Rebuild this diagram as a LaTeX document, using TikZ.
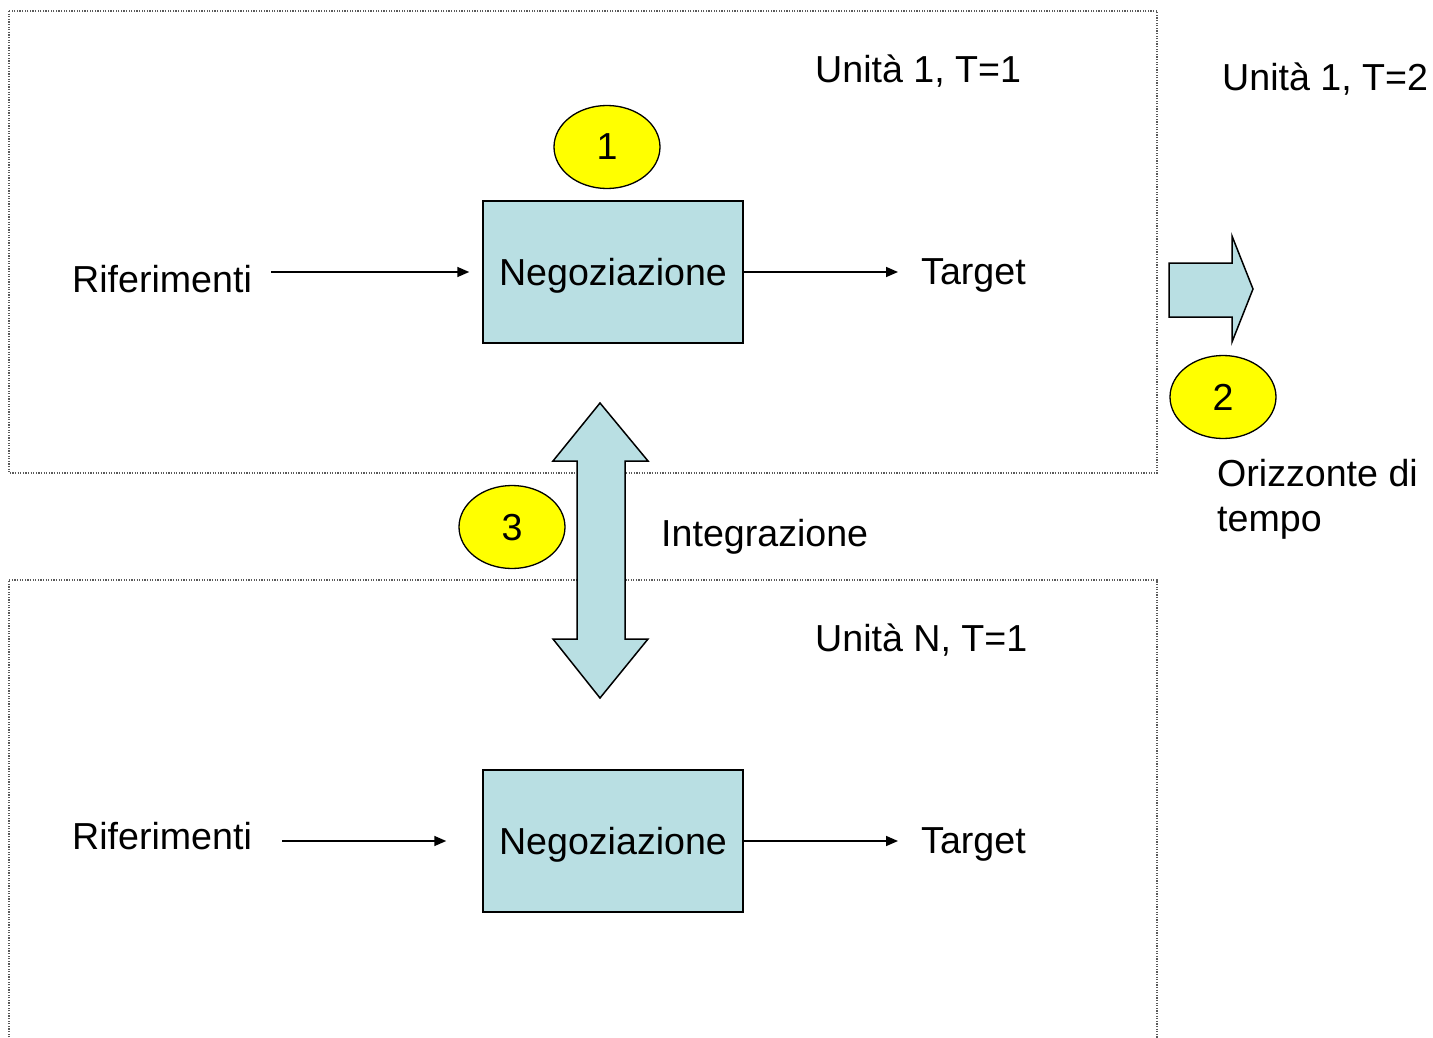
\documentclass[tikz,border=0pt]{standalone}
\usepackage{fontspec}
\setmainfont{Liberation Sans}
\usetikzlibrary{arrows.meta,shapes.geometric}
\definecolor{boxblue}{RGB}{185,223,227}
\definecolor{tagyellow}{RGB}{255,255,0}
\definecolor{frameline}{RGB}{90,90,90}
\begin{document}
\begin{tikzpicture}[x=1pt,y=-1pt,
  lbl/.style={font=\fontsize{37.6}{45}\selectfont,inner sep=0pt,anchor=base west},
  negbox/.style={draw=black,line width=1.5pt,fill=boxblue,minimum width=260pt,minimum height=142pt,inner sep=0pt,text depth=0pt,font=\fontsize{37.6}{45}\selectfont},
  tag/.style={ellipse,draw=black,line width=1.3pt,fill=tagyellow,minimum width=106pt,minimum height=83pt,inner sep=0pt,text depth=0pt,font=\fontsize{37.6}{45}\selectfont},
  flow/.style={line width=1.6pt,-{Triangle[length=12pt,width=10pt]}},
  unitframe/.style={draw=frameline,line width=1.3pt,dash pattern=on 1.3pt off 1.3pt},
  blockarrow/.style={draw=black,line width=1.5pt,fill=boxblue,line join=miter}]
\useasboundingbox (0,0) rectangle (1433,1038);
\fill[white] (0,0) rectangle (1433,1038);

% unit frames
\draw[unitframe] (9,11) rectangle (1157,473);
\draw[unitframe] (9,1040) -- (9,580) -- (1157,580) -- (1157,1040);

% upper unit
\node[lbl] (unit1) at (815,83) {Unità 1, T=1};
\node[negbox] (neg1) at (613,272) {Negoziazione};
\node[lbl] (rif1) at (72,292) {Riferimenti};
\node[lbl] (tgt1) at (921,284) {Target};
\node[tag] (tag1) at (607,147) {1};
\draw[flow,shorten <=19pt,shorten >=13pt] (rif1.east |- neg1.center) -- (neg1.west);
\draw[flow,shorten >=23pt] (neg1.east) -- (tgt1.west |- neg1.center);

% lower unit
\node[lbl] (unitN) at (815,651) {Unità N, T=1};
\node[negbox] (neg2) at (613,841) {Negoziazione};
\node[lbl] (rif2) at (72,849) {Riferimenti};
\node[lbl] (tgt2) at (921,853) {Target};
\draw[flow,shorten <=30pt,shorten >=36pt] (rif2.east |- neg2.center) -- (neg2.west);
\draw[flow,shorten >=23pt] (neg2.east) -- (tgt2.west |- neg2.center);

% integration between units
\draw[blockarrow] (600,403) -- (648,461) -- (625,461) -- (625,639) -- (648,639)
  -- (600,698) -- (553,639) -- (577,639) -- (577,461) -- (553,461) -- cycle;
\node[tag] (tag3) at (512,527) {3};
\node[lbl] (integ) at (661,546) {Integrazione};

% time horizon
\node[lbl] (unit2) at (1222,91) {Unità 1, T=2};
\draw[blockarrow] (1169,263) -- (1232,263) -- (1232,236) -- (1253,289) -- (1232,342)
  -- (1232,317) -- (1169,317) -- cycle;
\node[tag] (tag2) at (1223,397) {2};
\node[lbl,align=left,anchor=north west] (oriz) at (1217,459) {Orizzonte di\\tempo};
\end{tikzpicture}
\end{document}
